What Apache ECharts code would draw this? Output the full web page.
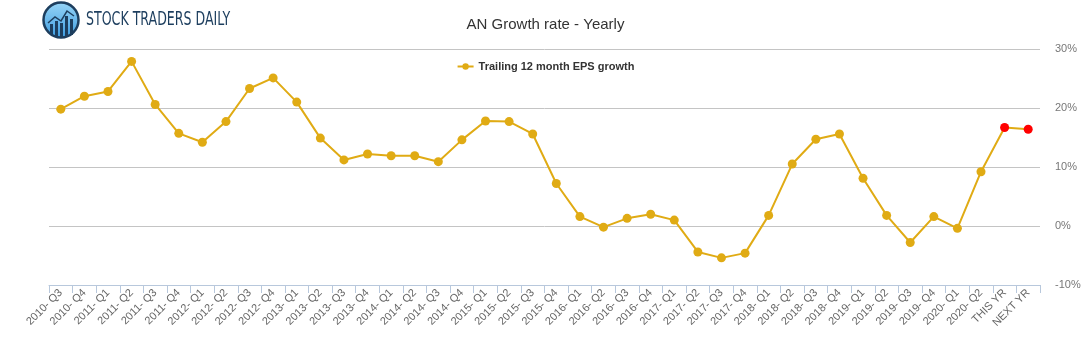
<!DOCTYPE html>
<html>
<head>
<meta charset="utf-8">
<script src="https://cdn.jsdelivr.net/npm/echarts@6/dist/echarts.min.js"></script>
<style>
  html, body { margin:0; padding:0; background:#fff; }
  #chart { width:1091px; height:350px; }
</style>
</head>
<body>
<div id="chart"></div>
<script>
// quarter labels, then the two estimate points
var categories = [
  '2010- Q3','2010- Q4',
  '2011- Q1','2011- Q2','2011- Q3','2011- Q4',
  '2012- Q1','2012- Q2','2012- Q3','2012- Q4',
  '2013- Q1','2013- Q2','2013- Q3','2013- Q4',
  '2014- Q1','2014- Q2','2014- Q3','2014- Q4',
  '2015- Q1','2015- Q2','2015- Q3','2015- Q4',
  '2016- Q1','2016- Q2','2016- Q3','2016- Q4',
  '2017- Q1','2017- Q2','2017- Q3','2017- Q4',
  '2018- Q1','2018- Q2','2018- Q3','2018- Q4',
  '2019- Q1','2019- Q2','2019- Q3','2019- Q4',
  '2020- Q1','2020- Q2','THIS YR','NEXT YR'
];
var epsGrowth = [
  19.8, 22.0,
  22.8, 27.9, 20.6, 15.7,
  14.2, 17.7, 23.3, 25.1,
  21.0, 14.9, 11.2, 12.2,
  11.9, 11.9, 10.9, 14.6,
  17.8, 17.7, 15.6, 7.2,
  1.6, -0.2, 1.3, 2.0,
  1.0, -4.4, -5.4, -4.6,
  1.8, 10.5, 14.7, 15.6,
  8.1, 1.8, -2.8, 1.6,
  -0.4, 9.2, 16.7, 16.4
];
var estimateLabels = ['THIS YR', 'NEXT YR'];
var yTicks = { min: -10, max: 30, step: 10 };

var lineColor = '#e0ab14';
var estColor = '#ff0000';

var seriesData = epsGrowth.map(function(v, i){
  if (estimateLabels.indexOf(categories[i]) >= 0) {
    return { value: v, itemStyle: { color: estColor } };
  }
  return v;
});

var drawCharts = echarts.init(document.getElementById('chart'));
var option = {
  animation: false,
  title: {
    text: 'AN Growth rate - Yearly',
    left: 'center',
    top: 12,
    textStyle: { fontFamily: 'Liberation Sans', fontSize: 15, fontWeight: 'normal', color: '#333' }
  },
  legend: {
    top: 56,
    left: 'center',
    itemWidth: 16,
    itemHeight: 8,
    textStyle: { fontFamily: 'Liberation Sans', fontSize: 11, fontWeight: 'bold', color: '#333' },
    data: ['Trailing 12 month EPS growth']
  },
  graphic: [
    {
      type: 'circle',
      shape: { cx: 61, cy: 20, r: 17.5 },
      style: {
        fill: new echarts.graphic.LinearGradient(0, 0, 0, 1, [
          { offset: 0, color: '#9ad6f7' },
          { offset: 1, color: '#3b9be0' }
        ]),
        stroke: '#1d3e5e', lineWidth: 2.5
      }
    },
    { type: 'rect', shape: { x: 50, y: 24, width: 3, height: 11 }, style: { fill: '#1d3e5e' } },
    { type: 'rect', shape: { x: 55, y: 21, width: 3, height: 15 }, style: { fill: '#1d3e5e' } },
    { type: 'rect', shape: { x: 60, y: 23, width: 3, height: 14 }, style: { fill: '#1d3e5e' } },
    { type: 'rect', shape: { x: 65, y: 16, width: 3, height: 21 }, style: { fill: '#1d3e5e' } },
    { type: 'rect', shape: { x: 70, y: 19, width: 3, height: 16 }, style: { fill: '#1d3e5e' } },
    {
      type: 'polyline',
      shape: { points: [[48, 23], [55, 17], [61, 21], [67, 11], [74, 16]] },
      style: { stroke: '#1d3e5e', lineWidth: 1.5, fill: null }
    },
    {
      type: 'text',
      left: 86, top: 10,
      scaleX: 0.7,
      style: {
        text: 'STOCK TRADERS DAILY',
        fontFamily: 'DejaVu Sans Condensed',
        fontSize: 20,
        fill: '#1d3e5e'
      }
    }
  ],
  grid: {
    left: 49,
    right: 51,
    top: 49,
    bottom: 65
  },
  xAxis: {
    type: 'category',
    boundaryGap: true,
    data: categories,
    axisLine: { onZero: false, lineStyle: { color: '#b8c8dc' } },
    axisTick: { show: true, length: 8, alignWithLabel: false, lineStyle: { color: '#b8c8dc' } },
    axisLabel: {
      interval: 0,
      rotate: 45,
      margin: 6,
      fontFamily: 'Liberation Sans',
      fontSize: 11,
      color: '#666'
    }
  },
  yAxis: {
    type: 'value',
    position: 'right',
    min: yTicks.min,
    max: yTicks.max,
    interval: yTicks.step,
    axisLine: { show: false },
    axisTick: { show: false },
    splitLine: { lineStyle: { color: '#c4c4c4', width: 1 } },
    axisLabel: {
      margin: 15,
      formatter: '{value}%',
      fontFamily: 'Liberation Sans',
      fontSize: 11,
      color: '#777'
    }
  },
  series: [
    {
      name: 'Trailing 12 month EPS growth',
      type: 'line',
      data: seriesData,
      symbol: 'circle',
      symbolSize: 9,
      itemStyle: { color: lineColor },
      lineStyle: { color: lineColor, width: 2 }
    }
  ]
};
drawCharts.setOption(option);
</script>
</body>
</html>
